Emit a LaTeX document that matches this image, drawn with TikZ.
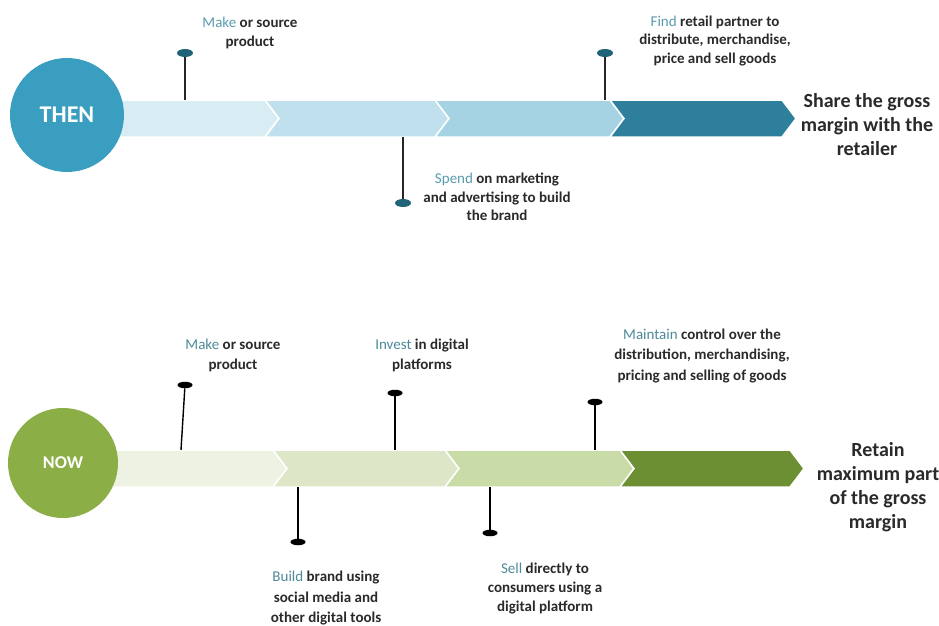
\documentclass[tikz,border=0pt]{standalone}
\usepackage{fontspec}
\setmainfont{Carlito}
\usetikzlibrary{shapes.geometric}
\definecolor{thenCirc}{HTML}{3A9EC0}
\definecolor{thenA}{HTML}{D8ECF4}
\definecolor{thenB}{HTML}{BFE0EC}
\definecolor{thenC}{HTML}{A6D3E4}
\definecolor{thenD}{HTML}{2E7F9B}
\definecolor{thenPin}{HTML}{1F6478}
\definecolor{thenKw}{HTML}{5A9BB0}
\definecolor{nowCirc}{HTML}{8BAE47}
\definecolor{nowA}{HTML}{EEF2E2}
\definecolor{nowB}{HTML}{DDE7C8}
\definecolor{nowC}{HTML}{C9DBA6}
\definecolor{nowD}{HTML}{6D8F33}
\definecolor{nowKw}{HTML}{4E8A9A}
\definecolor{txt}{HTML}{2A2A2A}
\begin{document}
\begin{tikzpicture}[x=1pt,y=-1pt,
  seg/.style={draw=white,line width=1.5pt,line join=miter},
  circ/.style={circle,minimum size=#1,inner sep=0,text=white,font=\bfseries},
  pinT/.style={ellipse,fill=thenPin,minimum width=16pt,minimum height=8pt,inner sep=0},
  pinN/.style={ellipse,fill=black,minimum width=15pt,minimum height=6.5pt,inner sep=0},
  stem/.style={line width=1.4pt,draw=black!85},
  desc/.style={align=center,inner sep=0,text=txt,font=\fontsize{15}{18.5}\selectfont\bfseries},
  head/.style={align=center,inner sep=0,text=txt,font=\fontsize{20}{24}\selectfont\bfseries}]
\useasboundingbox[fill=white] (0,0) rectangle (939,626);

% ---------------- THEN ----------------
\def\d{14}
\fill[thenA,seg] (110,100) -- (265,100) -- (265+\d,118.5) -- (265,137) -- (110,137) -- cycle;
\fill[thenB,seg] (265,100) -- (435,100) -- (435+\d,118.5) -- (435,137) -- (265,137) -- (265+\d,118.5) -- cycle;
\fill[thenC,seg] (435,100) -- (610,100) -- (610+\d,118.5) -- (610,137) -- (435,137) -- (435+\d,118.5) -- cycle;
\fill[thenD,seg] (610,100) -- (782,100) -- (782+\d,118.5) -- (782,137) -- (610,137) -- (610+\d,118.5) -- cycle;
\node[circ=114pt,fill=thenCirc,font=\fontsize{24}{28}\selectfont\bfseries] (then) at (67,115) {THEN};

\coordinate (t1) at (185,100);
\coordinate (t2) at (403,137);
\coordinate (t3) at (605,100);
\node[pinT] (tp1) at (185,53) {};
\node[pinT] (tp2) at (403,203) {};
\node[pinT] (tp3) at (605,53) {};
\draw[stem] (tp1) -- (t1);
\draw[stem] (tp2) -- (t2);
\draw[stem] (tp3) -- (t3);

\node[desc] (tmake) at (250,33) {{\mdseries\color{thenKw}Make} or source\\product};
\node[desc] (tspend) at (497,197) {{\mdseries\color{thenKw}Spend} on marketing\\and advertising to build\\the brand};
\node[desc] (tfind) at (715,41) {{\mdseries\color{thenKw}Find} retail partner to\\distribute, merchandise,\\price and sell goods};
\node[head] (tshare) at (867,125) {Share the gross\\margin with the\\retailer};

% ---------------- NOW ----------------
\fill[nowA,seg] (110,450) -- (273,450) -- (273+\d,468.5) -- (273,487) -- (110,487) -- cycle;
\fill[nowB,seg] (273,450) -- (445,450) -- (445+\d,468.5) -- (445,487) -- (273,487) -- (273+\d,468.5) -- cycle;
\fill[nowC,seg] (445,450) -- (620,450) -- (620+\d,468.5) -- (620,487) -- (445,487) -- (445+\d,468.5) -- cycle;
\fill[nowD,seg] (620,450) -- (790,450) -- (790+\d,468.5) -- (790,487) -- (620,487) -- (620+\d,468.5) -- cycle;
\node[circ=110pt,fill=nowCirc,font=\fontsize{18}{21}\selectfont\bfseries] (now) at (63,463) {NOW};

\coordinate (n1) at (181,450);
\coordinate (n2) at (395,450);
\coordinate (n3) at (595,450);
\coordinate (n4) at (298,487);
\coordinate (n5) at (490,487);
\node[pinN] (np1) at (185,385) {};
\node[pinN] (np2) at (395,393) {};
\node[pinN] (np3) at (595,402) {};
\node[pinN] (np4) at (298,542) {};
\node[pinN] (np5) at (490,533) {};
\draw[stem,draw=black] (np1) -- (n1);
\draw[stem,draw=black] (np2) -- (n2);
\draw[stem,draw=black] (np3) -- (n3);
\draw[stem,draw=black] (np4) -- (n4);
\draw[stem,draw=black] (np5) -- (n5);

\node[desc,font=\fontsize{15}{20}\selectfont\bfseries] (nmake) at (233,355) {{\mdseries\color{nowKw}Make} or source\\product};
\node[desc,font=\fontsize{15}{20}\selectfont\bfseries] (ninvest) at (422,355) {{\mdseries\color{nowKw}Invest} in digital\\platforms};
\node[desc,font=\fontsize{15}{20.5}\selectfont\bfseries] (nmaint) at (702,356) {{\mdseries\color{nowKw}Maintain} control over the\\distribution, merchandising,\\pricing and selling of goods};
\node[desc,font=\fontsize{15}{20}\selectfont\bfseries] (nbuild) at (326,598) {{\mdseries\color{nowKw}Build} brand using\\social media and\\other digital tools};
\node[desc,font=\fontsize{15}{19}\selectfont\bfseries] (nsell) at (545,589) {{\mdseries\color{nowKw}Sell} directly to\\consumers using a\\digital platform};
\node[head] (nretain) at (878,487) {Retain\\maximum part\\of the gross\\margin};
\end{tikzpicture}
\end{document}
